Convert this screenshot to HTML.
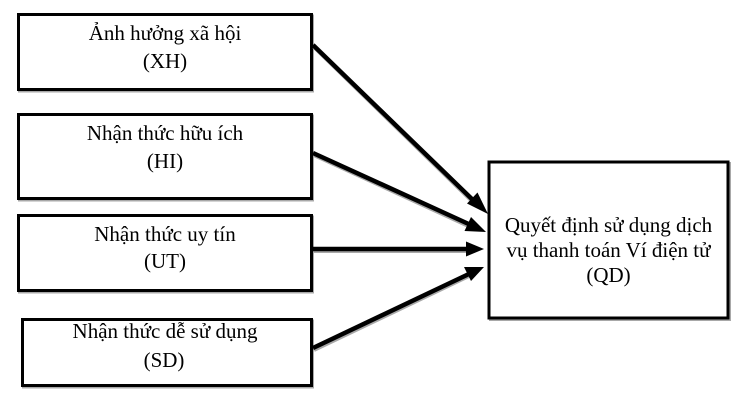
<!DOCTYPE html>
<html>
<head>
<meta charset="utf-8">
<style>
  html, body { margin: 0; padding: 0; background: #fff; }
  svg { display: block; }
  svg text { font-family: "Liberation Serif", "Times New Roman", "DejaVu Serif", serif; font-size: 21px; fill: #000; }
</style>
</head>
<body>
<svg width="744" height="411" viewBox="0 0 744 411" xmlns="http://www.w3.org/2000/svg">
  <rect x="0" y="0" width="744" height="411" fill="#fff"/>

  <!-- box shadows -->
  <g fill="none" stroke="#a8a8a8" stroke-width="3">
    <rect x="19.5" y="16" width="293" height="75"/>
    <rect x="19.5" y="116" width="293" height="84"/>
    <rect x="19.5" y="217" width="293" height="75"/>
    <rect x="23.5" y="321" width="289" height="66"/>
    <rect x="490.5" y="163.5" width="239" height="156"/>
  </g>
  <!-- boxes -->
  <g fill="#fff" stroke="#000" stroke-width="3">
    <rect x="18.5" y="14.5" width="293" height="75"/>
    <rect x="18.5" y="114.5" width="293" height="84"/>
    <rect x="18.5" y="215.5" width="293" height="75"/>
    <rect x="22.5" y="319.5" width="289" height="66"/>
    <rect x="489" y="162" width="239" height="156"/>
  </g>

  <!-- connector shadows -->
  <g stroke="#a8a8a8" stroke-width="4" fill="none">
    <line x1="314" y1="47" x2="476" y2="205"/>
    <line x1="314" y1="155" x2="473" y2="228"/>
    <line x1="314" y1="251" x2="470" y2="251"/>
    <line x1="314" y1="350" x2="471" y2="275"/>
  </g>
  <!-- connectors -->
  <g stroke="#000" stroke-width="4.5" fill="none">
    <line x1="313" y1="45" x2="476" y2="203"/>
    <line x1="313" y1="153" x2="473" y2="226"/>
    <line x1="313" y1="249" x2="470" y2="249"/>
    <line x1="313" y1="348" x2="471" y2="273"/>
  </g>
  <!-- arrowheads -->
  <g fill="#000">
    <polygon points="488,214 467,203.5 477.5,192.5"/>
    <polygon points="486,232 464.5,231 471,217"/>
    <polygon points="484,249 466,241.5 466,256.5"/>
    <polygon points="484,267 471,281 464,267"/>
  </g>

  <!-- labels -->
  <g text-anchor="middle" font-family="'Liberation Serif', 'Times New Roman', 'DejaVu Serif', serif" font-size="21" style="font-family: 'Liberation Serif', 'Times New Roman', 'DejaVu Serif', serif;">
    <text x="165" y="40">Ảnh hưởng xã hội</text>
    <text x="165" y="68">(XH)</text>
    <text x="165" y="140">Nhận thức hữu ích</text>
    <text x="165" y="168">(HI)</text>
    <text x="165" y="241">Nhận thức uy tín</text>
    <text x="165" y="268">(UT)</text>
    <text x="165" y="338">Nhận thức dễ sử dụng</text>
    <text x="164" y="367">(SD)</text>
    <text x="608.5" y="232">Quyết định sử dụng dịch</text>
    <text x="608.5" y="257">vụ thanh toán Ví điện tử</text>
    <text x="608.5" y="282">(QD)</text>
  </g>
</svg>
</body>
</html>
